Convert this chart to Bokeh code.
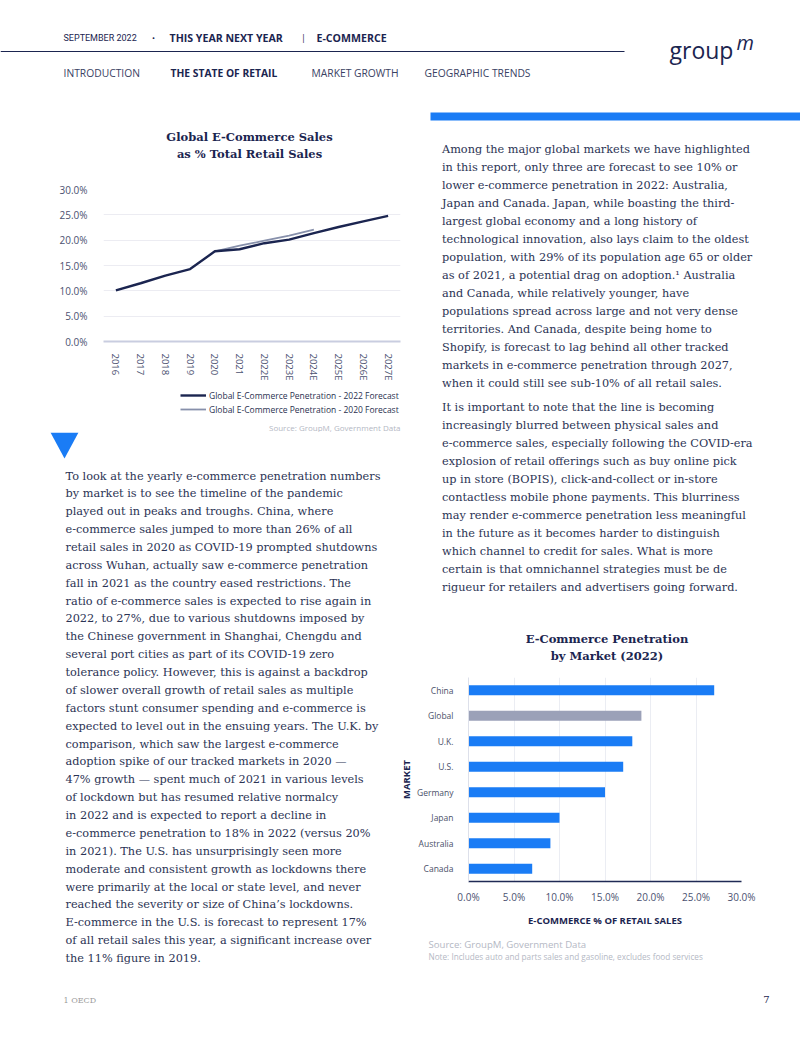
from bokeh.plotting import figure
from bokeh.models import Range1d, FactorRange, FixedTicker, PrintfTickFormatter, Legend, ColumnDataSource
from bokeh.layouts import column, row
from bokeh.core.properties import value
from bokeh.embed import file_html
from bokeh.resources import INLINE

# ---------------- data ----------------
years = ['2016', '2017', '2018', '2019', '2020', '2021', '2022E', '2023E', '2024E', '2025E', '2026E', '2027E']
pen_2022_forecast = [10.1, 11.5, 13.0, 14.3, 17.8, 18.2, 19.4, 20.1, 21.4, 22.6, 23.7, 24.8]
years_2020_forecast = ['2020', '2021', '2022E', '2023E', '2024E']
pen_2020_forecast = [17.8, 18.9, 19.9, 20.9, 22.1]
line_ticks = [0, 5, 10, 15, 20, 25, 30]
series_labels = ["Global E-Commerce Penetration - 2022 Forecast",
                 "Global E-Commerce Penetration - 2020 Forecast"]

markets = ['China', 'Global', 'U.K.', 'U.S.', 'Germany', 'Japan', 'Australia', 'Canada']
share_2022 = [27.0, 19.0, 18.0, 17.0, 15.0, 10.0, 9.0, 7.0]
bar_ticks = [0, 5, 10, 15, 20, 25, 30]

left_para = [
    "To look at the yearly e-commerce penetration numbers",
    "by market is to see the timeline of the pandemic",
    "played out in peaks and troughs. China, where",
    "e-commerce sales jumped to more than 26% of all",
    "retail sales in 2020 as COVID-19 prompted shutdowns",
    "across Wuhan, actually saw e-commerce penetration",
    "fall in 2021 as the country eased restrictions. The",
    "ratio of e-commerce sales is expected to rise again in",
    "2022, to 27%, due to various shutdowns imposed by",
    "the Chinese government in Shanghai, Chengdu and",
    "several port cities as part of its COVID-19 zero",
    "tolerance policy. However, this is against a backdrop",
    "of slower overall growth of retail sales as multiple",
    "factors stunt consumer spending and e-commerce is",
    "expected to level out in the ensuing years. The U.K. by",
    "comparison, which saw the largest e-commerce",
    "adoption spike of our tracked markets in 2020 \u2014",
    "47% growth \u2014 spent much of 2021 in various levels",
    "of lockdown but has resumed relative normalcy",
    "in 2022 and is expected to report a decline in",
    "e-commerce penetration to 18% in 2022 (versus 20%",
    "in 2021). The U.S. has unsurprisingly seen more",
    "moderate and consistent growth as lockdowns there",
    "were primarily at the local or state level, and never",
    "reached the severity or size of China\u2019s lockdowns.",
    "E-commerce in the U.S. is forecast to represent 17%",
    "of all retail sales this year, a significant increase over",
    "the 11% figure in 2019.",
]
right_para1 = [
    "Among the major global markets we have highlighted",
    "in this report, only three are forecast to see 10% or",
    "lower e-commerce penetration in 2022: Australia,",
    "Japan and Canada. Japan, while boasting the third-",
    "largest global economy and a long history of",
    "technological innovation, also lays claim to the oldest",
    "population, with 29% of its population age 65 or older",
    "as of 2021, a potential drag on adoption.\u00b9 Australia",
    "and Canada, while relatively younger, have",
    "populations spread across large and not very dense",
    "territories. And Canada, despite being home to",
    "Shopify, is forecast to lag behind all other tracked",
    "markets in e-commerce penetration through 2027,",
    "when it could still see sub-10% of all retail sales.",
]
right_para2 = [
    "It is important to note that the line is becoming",
    "increasingly blurred between physical sales and",
    "e-commerce sales, especially following the COVID-era",
    "explosion of retail offerings such as buy online pick",
    "up in store (BOPIS), click-and-collect or in-store",
    "contactless mobile phone payments. This blurriness",
    "may render e-commerce penetration less meaningful",
    "in the future as it becomes harder to distinguish",
    "which channel to credit for sales. What is more",
    "certain is that omnichannel strategies must be de",
    "rigueur for retailers and advertisers going forward.",
]

# ---------------- style ----------------
NAVY = '#1b2550'
TEXT = '#2b3354'
BLUE = '#1a7cf5'
GREY_BAR = '#9ba1b8'
GREY_LINE = '#8790ab'
LIGHT = '#b4b8c4'
TICK = '#4b5170'
SERIF = 'DejaVu Serif'
SANS = 'Open Sans'
BODY = '11.3px'
NAN = float('nan')


def canvas(x0, y0, w, h):
    p = figure(width=w, height=h, x_range=Range1d(x0, x0 + w), y_range=Range1d(y0 + h, y0),
               output_backend='svg', toolbar_location=None,
               x_axis_location=None, y_axis_location=None, min_border=0, frame_align=False)
    p.grid.visible = False
    p.outline_line_color = None
    p.background_fill_color = 'white'
    p.border_fill_color = 'white'
    return p


def txt(p, xs, ys, ss, size, color, font=SANS, style='normal', align='left', baseline='middle'):
    p.text(x=xs, y=ys, text=ss, text_font=value(font), text_font_size=size,
           text_color=color, text_font_style=style, text_align=align, text_baseline=baseline)


def para(p, lines, x, y_first, lead, y_min, y_max):
    xs, ys, ss = [], [], []
    for i, s in enumerate(lines):
        y = y_first + i * lead
        if y_min <= y <= y_max:
            xs.append(x)
            ys.append(y)
            ss.append(s)
    if ss:
        txt(p, xs, ys, ss, BODY, TEXT, font=SERIF, baseline='alphabetic')


# ---------------- header ----------------
H = canvas(0, 0, 800, 124)
txt(H, [63], [37], ["SEPTEMBER 2022"], '9px', NAVY, font='Roboto')
txt(H, [153], [37], ["\u2022"], '8px', NAVY, align='center')
txt(H, [169], [37], ["THIS YEAR NEXT YEAR"], '10.6px', NAVY, style='bold')
txt(H, [303], [37], ["|"], '9px', NAVY, align='center')
txt(H, [316], [37], ["E-COMMERCE"], '10.6px', NAVY, style='bold')
H.segment(x0=0, y0=51, x1=624, y1=51, line_color=NAVY, line_width=1.2)
txt(H, [669], [49], ["group"], '23px', NAVY, font=SANS, baseline='alphabetic')
txt(H, [736], [42], ["m"], '20px', NAVY, font=SANS, style='italic', baseline='alphabetic')
txt(H, [63], [72], ["INTRODUCTION"], '10.3px', '#3a4263')
txt(H, [170], [72], ["THE STATE OF RETAIL"], '10.3px', NAVY, style='bold')
txt(H, [311], [72], ["MARKET GROWTH"], '10.3px', '#3a4263')
txt(H, [424], [72], ["GEOGRAPHIC TRENDS"], '10.3px', '#3a4263')
H.quad(left=430, right=800, top=112, bottom=120, color=BLUE, line_color=None)

# ---------------- line chart ----------------
A1 = canvas(0, 124, 420, 56)
txt(A1, [249, 249], [136, 153], ["Global E-Commerce Sales", "as % Total Retail Sales"],
    '11.5px', NAVY, font=SERIF, style='bold', align='center')

lc = figure(width=420, height=208, x_range=FactorRange(*years), y_range=Range1d(0, 30),
            output_backend='svg', toolbar_location=None, frame_align=False,
            min_border_left=103, min_border_right=20, min_border_top=9, min_border_bottom=47)
lc.outline_line_color = None
lc.xgrid.visible = False
lc.ygrid.grid_line_color = '#ececf2'
lc.ygrid.ticker = FixedTicker(ticks=line_ticks)
lc.yaxis.ticker = FixedTicker(ticks=line_ticks)
lc.yaxis.formatter = PrintfTickFormatter(format='%.1f%%')
lc.yaxis.axis_line_color = None
lc.yaxis.major_tick_line_color = None
lc.yaxis.minor_tick_line_color = None
lc.yaxis.major_label_standoff = 10
lc.yaxis.major_label_text_font = SANS
lc.yaxis.major_label_text_font_size = '10px'
lc.yaxis.major_label_text_color = TICK
lc.xaxis.axis_line_color = '#c9cde0'
lc.xaxis.axis_line_width = 2
lc.xaxis.major_tick_line_color = None
lc.xaxis.major_label_orientation = 'vertical'
lc.xaxis.major_label_standoff = 6
lc.xaxis.major_label_text_font = SANS
lc.xaxis.major_label_text_font_size = '9.5px'
lc.xaxis.major_label_text_color = TICK
lc.line(years_2020_forecast, pen_2020_forecast, line_color=GREY_LINE, line_width=1.8)
lc.line(years, pen_2022_forecast, line_color=NAVY, line_width=2.4)

# legend + source (below the chart); legend keys are proxies that draw nothing themselves
LG = canvas(0, 388, 420, 44)
k22 = LG.line(x=[NAN], y=[NAN], line_color=NAVY, line_width=2.4)
k20 = LG.line(x=[NAN], y=[NAN], line_color=GREY_LINE, line_width=1.8)
leg = Legend(items=[(series_labels[0], [k22]), (series_labels[1], [k20])],
             location=(180, 17), orientation='vertical')
leg.label_text_font = SANS
leg.label_text_font_size = '8.5px'
leg.label_text_color = '#2a3150'
leg.glyph_width = 26
leg.glyph_height = 12
leg.label_height = 12
leg.label_standoff = 3
leg.spacing = 2
leg.padding = 0
leg.margin = 0
leg.border_line_color = None
leg.background_fill_alpha = 0
LG.add_layout(leg, 'center')
txt(LG, [400], [427], ["Source: GroupM, Government Data"], '8px', LIGHT, align='right')

# ---------------- right text (top) ----------------
AR = canvas(420, 124, 380, 308)
para(AR, right_para1, 441.5, 148.5, 18.02, 124, 432)
para(AR, right_para2, 441.5, 407.0, 18.0, 124, 432)

# ---------------- left text ----------------
BL = canvas(0, 432, 385, 603)
BL.patch(x=[50, 78, 64], y=[432, 432, 458], color=BLUE, line_color=None)
para(BL, left_para, 65, 475.5, 17.87, 432, 1035)
txt(BL, [63], [1000], ["1 OECD"], '8px', '#9b9b9b', font=SERIF)

# ---------------- right text (bottom) + bar title ----------------
B1 = canvas(385, 432, 415, 236)
para(B1, right_para1, 441.5, 148.5, 18.02, 432, 668)
para(B1, right_para2, 441.5, 407.0, 18.0, 432, 668)
txt(B1, [606.5, 606.5], [638, 655], ["E-Commerce Penetration", "by Market (2022)"],
    '11.5px', NAVY, font=SERIF, style='bold', align='center')

# ---------------- bar chart ----------------
src = ColumnDataSource(dict(market=markets, share=share_2022,
                            color=[GREY_BAR if m == 'Global' else BLUE for m in markets]))
bc = figure(width=415, height=264, y_range=FactorRange(*reversed(markets)), x_range=Range1d(0, 30),
            output_backend='svg', toolbar_location=None, frame_align=False,
            min_border_left=83, min_border_right=59, min_border_top=9, min_border_bottom=51)
bc.hbar(y='market', right='share', height=0.4, color='color', line_color=None, source=src)
bc.outline_line_color = None
bc.ygrid.visible = False
bc.xgrid.grid_line_color = '#ebedf3'
bc.xgrid.ticker = FixedTicker(ticks=bar_ticks)
bc.xaxis.ticker = FixedTicker(ticks=bar_ticks)
bc.xaxis.formatter = PrintfTickFormatter(format='%.1f%%')
bc.xaxis.axis_line_color = '#1f2a55'
bc.xaxis.axis_line_width = 1.5
bc.xaxis.major_tick_line_color = None
bc.xaxis.minor_tick_line_color = None
bc.xaxis.major_label_standoff = 2
bc.xaxis.major_label_text_font = SANS
bc.xaxis.major_label_text_font_size = '10px'
bc.xaxis.major_label_text_color = TICK
bc.xaxis.axis_label = "E-COMMERCE % OF RETAIL SALES"
bc.xaxis.axis_label_text_font = SANS
bc.xaxis.axis_label_text_font_style = 'bold'
bc.xaxis.axis_label_text_font_size = '9.5px'
bc.xaxis.axis_label_text_color = NAVY
bc.xaxis.axis_label_standoff = 7
bc.yaxis.axis_line_color = '#dde0ea'
bc.yaxis.major_tick_line_color = None
bc.yaxis.major_label_standoff = 9
bc.yaxis.major_label_text_font = SANS
bc.yaxis.major_label_text_font_size = '8.5px'
bc.yaxis.major_label_text_color = '#4b5069'
bc.yaxis.axis_label = "MARKET"
bc.yaxis.axis_label_text_font = SANS
bc.yaxis.axis_label_text_font_style = 'bold'
bc.yaxis.axis_label_text_font_size = '9.5px'
bc.yaxis.axis_label_text_color = NAVY
bc.yaxis.axis_label_standoff = 1

B3 = canvas(385, 932, 415, 103)
txt(B3, [428], [943.5], ["Source: GroupM, Government Data"], '9.6px', LIGHT)
txt(B3, [428], [956], ["Note: Includes auto and parts sales and gasoline, excludes food services"], '8.2px', LIGHT)
txt(B3, [766], [999], ["7"], '10px', NAVY, font=SERIF, align='center')

layout = column(
    H,
    row(column(A1, lc, LG), AR),
    row(BL, column(B1, bc, B3)),
)

open("out.html", "w").write(file_html(layout, INLINE))
